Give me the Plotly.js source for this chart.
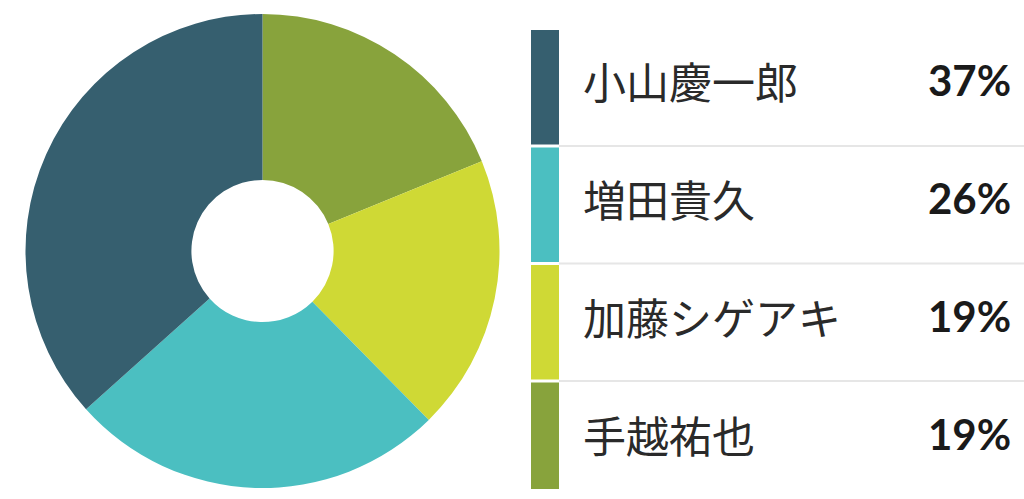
<!DOCTYPE html>
<html>
<head>
<meta charset="utf-8">
<script src="https://cdn.plot.ly/plotly-3.0.1.min.js"></script>
<style>
  html, body { margin: 0; padding: 0; background: #fff; }
  #chart { width: 1024px; height: 499px; }
</style>
</head>
<body>
<div id="chart"></div>
<script>
// data
const names = ['小山慶一郎', '増田貴久', '加藤シゲアキ', '手越祐也'];
const shares = [37, 26, 19, 19];
const colors = ['#365f6f', '#4bbfc1', '#cfd935', '#88a33c'];

const W = 1024, H = 499;
const px = x => x / W;
const py = y => 1 - y / H;

// legend rows (pixel layout)
const rowTop = 30, rowH = 117.5, gap = 3, listBottom = 489;
const barX0 = 531, barX1 = 559;
const textTop = 80, textStep = 118;

const shapes = [];
const annotations = [];

names.forEach((name, i) => {
    const y0 = rowTop + i * rowH;
    const y1 = Math.min(y0 + rowH - gap, listBottom);
    const mid = textTop + i * textStep;

    shapes.push({
        type: 'rect', xref: 'paper', yref: 'paper',
        x0: px(barX0), x1: px(barX1), y0: py(y0), y1: py(y1),
        fillcolor: colors[i], line: {width: 0}
    });
    if (i > 0) {
        shapes.push({
            type: 'line', xref: 'paper', yref: 'paper',
            x0: px(barX1), x1: 1, y0: py(y0 - gap / 2), y1: py(y0 - gap / 2),
            line: {color: '#e6e6e6', width: 2}
        });
    }
    annotations.push({
        xref: 'paper', yref: 'paper', x: px(581), y: py(mid),
        xanchor: 'left', yanchor: 'middle', showarrow: false,
        text: name,
        font: {family: 'Noto Sans CJK JP', size: 43, color: '#2a2a2a'}
    });
    annotations.push({
        xref: 'paper', yref: 'paper', x: px(1013), y: py(mid),
        xanchor: 'right', yanchor: 'middle', showarrow: false,
        text: '<b>' + shares[i] + '%</b>',
        font: {family: 'Lato', size: 42, color: '#1a1a1a'}
    });
});

// the donut runs counterclockwise from 12 o'clock: feed it reversed, clockwise
const rev = a => a.slice().reverse();

const data = [{
    type: 'pie',
    labels: rev(names),
    values: rev(shares),
    marker: {colors: rev(colors), line: {width: 0}},
    hole: 0.3,
    sort: false,
    direction: 'clockwise',
    rotation: 0,
    textinfo: 'none',
    hoverinfo: 'label+percent',
    showlegend: false,
    domain: {x: [px(25), px(500)], y: [py(488), py(14)]}
}];

const layout = {
    width: W,
    height: H,
    margin: {t: 0, r: 0, b: 0, l: 0},
    paper_bgcolor: '#fff',
    showlegend: false,
    shapes: shapes,
    annotations: annotations
};

Plotly.newPlot('chart', data, layout, {displayModeBar: false, staticPlot: true});
</script>
</body>
</html>
